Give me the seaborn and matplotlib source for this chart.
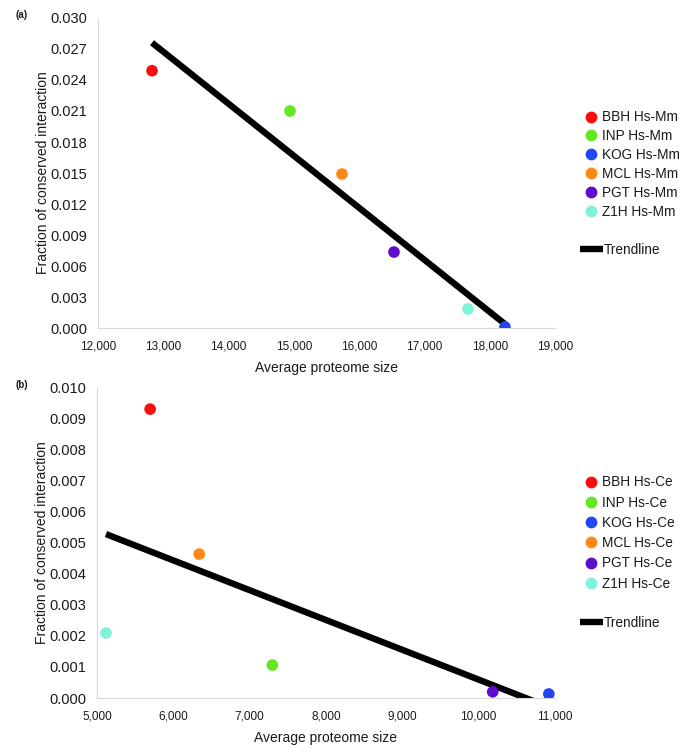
import numpy as np
import matplotlib
matplotlib.use("Agg")
import matplotlib.pyplot as plt
import seaborn as sns
from matplotlib.lines import Line2D
from matplotlib.ticker import FuncFormatter, MultipleLocator


# Data

methods = ["BBH", "INP", "KOG", "MCL", "PGT", "Z1H"]
colors = ["#fa0d0d", "#62e81e", "#2346f2", "#ff8714", "#5e0ccd", "#80f2da"]

# (a) human vs mouse
size_hs_mm = [12827, 14940, 18233, 15737, 16533, 17666]
frac_hs_mm = [0.0249, 0.0210, 0.0001, 0.0149, 0.00735, 0.00184]

# (b) human vs worm
size_hs_ce = [5696, 7297, 10919, 6339, 10184, 5118]
frac_hs_ce = [0.00929, 0.00106, 0.00013, 0.00463, 0.00020, 0.00209]

sns.set_style("white")
plt.rcParams["font.family"] = ["Liberation Sans", "DejaVu Sans"]

fig = plt.figure(figsize=(6.85, 7.53), dpi=100)

axis_grey = "#d9d9d9"
text_col = "#1a1a1a"


def draw_panel(ax, sizes, fracs, suffix, xlim, ylim, ystep, leg_y, trend_y,
               spacing):
    labels = [f"{m} {suffix}" for m in methods]
    palette = dict(zip(labels, colors))

    # trendline: least squares fit spanning the data range
    slope, icpt = np.polyfit(sizes, fracs, 1)
    xs = np.array([min(sizes), max(sizes)])
    sns.lineplot(x=xs, y=slope * xs + icpt, ax=ax, color="black",
                 linewidth=4.6, solid_capstyle="butt", zorder=2)

    sns.scatterplot(x=sizes, y=fracs, hue=labels, palette=palette, ax=ax,
                    s=70, edgecolor="none", legend=False, zorder=3)

    ax.set_xlim(*xlim)
    ax.set_ylim(*ylim)
    ax.yaxis.set_major_locator(MultipleLocator(ystep))
    ax.xaxis.set_major_locator(MultipleLocator(1000))
    ax.yaxis.set_major_formatter(FuncFormatter(lambda v, p: f"{v:.3f}"))
    ax.xaxis.set_major_formatter(FuncFormatter(lambda v, p: f"{v:,.0f}"))

    sns.despine(ax=ax)
    for side in ["left", "bottom"]:
        ax.spines[side].set_color(axis_grey)
        ax.spines[side].set_linewidth(0.8)
    ax.tick_params(axis="both", which="major", length=4, width=0.8,
                   color=axis_grey, direction="out")
    ax.tick_params(axis="y", labelsize=10.5, pad=4, labelcolor=text_col)
    ax.tick_params(axis="x", labelsize=8.5, pad=5, labelcolor=text_col)

    ax.set_ylabel("Fraction of conserved interaction", fontsize=10,
                  color=text_col, labelpad=0)
    ax.set_xlabel("Average proteome size", fontsize=10, color=text_col,
                  labelpad=6)

    handles = [Line2D([], [], marker="o", linestyle="none", markersize=8.5,
                      markerfacecolor=c, markeredgecolor="none")
               for c in colors]
    leg1 = fig.legend(handles=handles, labels=labels, loc="center left",
                      bbox_to_anchor=(0.853, leg_y), frameon=False,
                      fontsize=9.8, handlelength=1.0, handletextpad=0.3,
                      labelspacing=spacing, borderpad=0, borderaxespad=0)
    for t in leg1.get_texts():
        t.set_color(text_col)

    trend = Line2D([], [], color="black", linewidth=4.6,
                   solid_capstyle="butt")
    leg2 = fig.legend(handles=[trend], labels=["Trendline"],
                      loc="center left", bbox_to_anchor=(0.846, trend_y),
                      frameon=False, fontsize=9.8, handlelength=1.7,
                      handletextpad=0.05, borderpad=0, borderaxespad=0)
    for t in leg2.get_texts():
        t.set_color(text_col)


ax_a = fig.add_axes([0.1431, 0.5644, 0.6672, 0.4117])
draw_panel(ax_a, size_hs_mm, frac_hs_mm, "Hs-Mm", (12000, 19000),
           (0, 0.030), 0.003, 0.7815, 0.6680, 0.36)

ax_b = fig.add_axes([0.1416, 0.0730, 0.6686, 0.4130])
draw_panel(ax_b, size_hs_ce, frac_hs_ce, "Hs-Ce", (5000, 11000),
           (0, 0.010), 0.001, 0.2922, 0.1726, 0.46)

fig.text(0.022, 0.980, "(a)", fontsize=7, fontweight="bold", color=text_col,
         ha="left", va="center")
fig.text(0.022, 0.489, "(b)", fontsize=7, fontweight="bold", color=text_col,
         ha="left", va="center")

fig.savefig("out.png", dpi=100)
